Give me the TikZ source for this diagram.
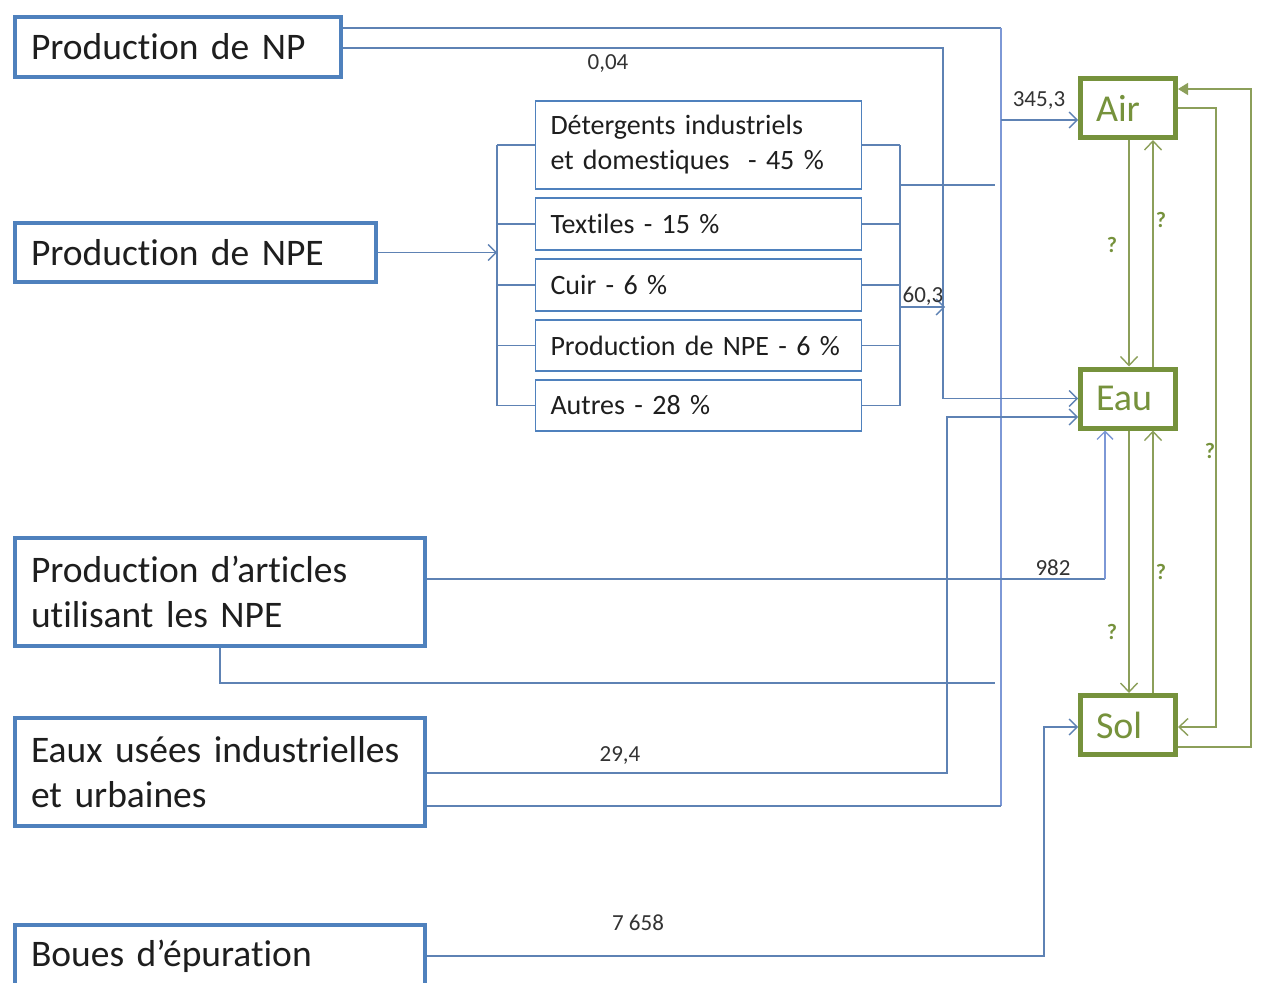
\documentclass[tikz,border=0pt]{standalone}
\usepackage{fontspec}
\setmainfont{Carlito}[Ligatures={NoCommon}]
\usetikzlibrary{arrows.meta}
\definecolor{boxblue}{HTML}{4F81BD}
\definecolor{lnblue}{HTML}{5E82B4}
\definecolor{lnlav}{HTML}{7D98D6}
\definecolor{grn}{HTML}{76923C}
\definecolor{lngrn}{HTML}{8C9F5A}
\definecolor{txt}{HTML}{1E1E1E}
\definecolor{lbl}{HTML}{333333}
\begin{document}
\begin{tikzpicture}[x=1pt,y=-1pt,
  bigbox/.style={draw=boxblue, line width=4pt, fill=white, inner xsep=16pt, inner ysep=0pt, align=left, text=txt, font=\fontsize{37.5}{45}\selectfont},
  midbox/.style={draw=boxblue, line width=1.3pt, fill=white, inner xsep=15pt, inner ysep=0pt, align=left, text=txt, text width=296pt, font=\fontsize{28}{35}\selectfont},
  envbox/.style={draw=grn, line width=5pt, fill=white, inner xsep=15.5pt, inner ysep=0pt, align=left, text=grn, text width=64pt, minimum height=59pt, font=\fontsize{38}{45}\selectfont},
  ln/.style={draw=lnblue, line width=1.3pt},
  lnl/.style={draw=lnlav, line width=1.3pt},
  arr/.style={ln, -{Straight Barb[length=8pt,width=16pt,line width=1.3pt]}},
  arrl/.style={lnl, -{Straight Barb[length=8pt,width=16pt,line width=1.3pt]}},
  gln/.style={draw=lngrn, line width=1.4pt},
  garr/.style={gln, -{Straight Barb[length=9pt,width=17pt,line width=1.4pt]}},
  lab/.style={text=lbl, inner sep=0pt, font=\fontsize{23}{23}\selectfont},
  qm/.style={text=grn, inner sep=0pt, font=\fontsize{22}{22}\selectfont\bfseries}
]
\fill[white] (0,0) rectangle (1267,983);
\useasboundingbox (0,0) rectangle (1267,983);

% source boxes
\node[bigbox, text width=294pt, minimum height=60pt] (np) at (178,47) {Production de NP};
\node[bigbox, text width=329pt, minimum height=59pt] (npe) at (195.5,252.5) {Production de NPE};
\node[bigbox, text width=378pt, minimum height=108pt] (art) at (220,592) {Production d’articles\\utilisant les NPE};
\node[bigbox, text width=378pt, minimum height=108pt] (eaux) at (220,772) {Eaux usées industrielles\\et urbaines};
\node[bigbox, text width=378pt, minimum height=62pt] (boues) at (220,956) {Boues d’épuration};

% uses
\node[midbox, minimum height=88pt] (det) at (698.5,145) {Détergents industriels\\et domestiques\ \ - 45~\%};
\node[midbox, minimum height=52pt] (tex) at (698.5,224) {Textiles - 15~\%};
\node[midbox, minimum height=52pt] (cuir) at (698.5,285) {Cuir - 6~\%};
\node[midbox, minimum height=51pt] (pnpe) at (698.5,345.5) {Production de NPE - 6~\%};
\node[midbox, minimum height=51pt] (aut) at (698.5,405.5) {Autres - 28~\%};

% compartments
\node[envbox] (air) at (1128,108) {Air};
\node[envbox] (eau) at (1128,398.5) {Eau};
\node[envbox] (sol) at (1128,725) {Sol};

% helper coordinates
\coordinate (lb) at (497,0);
\coordinate (rb) at (900,0);
\coordinate (va) at (1001,28);
\coordinate (vab) at (1001,806);
\coordinate (vaA) at (1001,120);
\coordinate (vb) at (943,48);
\coordinate (vc) at (947,773);
\coordinate (vcE) at (947,417);
\coordinate (d1) at (900,185);
\coordinate (d2) at (995,185);
\coordinate (s1) at (900,307);
\coordinate (s2) at (945,307);
\coordinate (ar1) at (1105,579);
\coordinate (ar2) at (220,683);
\coordinate (ar3) at (995,683);
\coordinate (bo1) at (1044,956);
\coordinate (bo2) at (1044,727);
\coordinate (g1) at (1129,0);
\coordinate (g2) at (1153,0);
\coordinate (g3) at (1216,108);
\coordinate (g3b) at (1216,727);
\coordinate (g4) at (1251,747);
\coordinate (g4b) at (1251,89);

% Production de NPE -> uses
\draw[arr] (npe.east) -- (npe.east -| lb);
\draw[ln] (det.west -| lb) -- (aut.west -| lb);
\draw[ln] (det.west -| lb) -- (det.west);
\draw[ln, line width=2.2pt] (tex.west -| lb) -- (tex.west);
\draw[ln] (cuir.west -| lb) -- (cuir.west);
\draw[ln] (pnpe.west -| lb) -- (pnpe.west);
\draw[ln] (aut.west -| lb) -- (aut.west);
\draw[ln] (det.east -| rb) -- (aut.east -| rb);
\draw[ln] (det.east) -- (det.east -| rb);
\draw[ln, line width=2.2pt] (tex.east) -- (tex.east -| rb);
\draw[ln] (cuir.east) -- (cuir.east -| rb);
\draw[ln] (pnpe.east) -- (pnpe.east -| rb);
\draw[ln] (aut.east) -- (aut.east -| rb);
\draw[ln] (d1) -- (d2);
\draw[arr] (s1) -- (s2);

% Production de NP
\draw[ln] (va -| np.east) -- (va);
\draw[lnl] (va) -- (vab);
\draw[arr] (vaA) -- (vaA -| air.west);
\draw[arr] (vb -| np.east) -- (vb) -- (vb |- eau.west) -- (eau.west);

% Production d'articles
\draw[ln] (ar1 -| art.east) -- (ar1);
\draw[arrl] (ar1) -- (ar1 |- eau.south);
\draw[ln] (art.south) -- (ar2) -- (ar3);

% Eaux usees
\draw[arr] (vc -| eaux.east) -- (vc) -- (vcE) -- (vcE -| eau.west);
\draw[ln] (vab -| eaux.east) -- (vab);

% Boues
\draw[arr] (bo1 -| boues.east) -- (bo1) -- (bo2) -- (bo2 -| sol.west);

% exchanges between compartments
\draw[garr] (air.south -| g1) -- (eau.north -| g1);
\draw[garr] (eau.north -| g2) -- (air.south -| g2);
\draw[garr] (eau.south -| g1) -- (sol.north -| g1);
\draw[garr] (sol.north -| g2) -- (eau.south -| g2);
\draw[garr] (g3 -| air.east) -- (g3) -- (g3b) -- (g3b -| sol.east);
\draw[gln, -{Triangle[length=10pt,width=12pt]}] (g4 -| sol.east) -- (g4) -- (g4b) -- (g4b -| air.east);

% labels
\node[lab] (l1) at (608,64) {0,04};
\node[lab] (l2) at (1039,101) {345,3};
\node[lab] (l3) at (923,296) {60,3};
\node[lab] (l4) at (1053,568) {982};
\node[lab] (l5) at (620,755) {29,4};
\node[lab] (l6) at (638,923) {7 658};
\node[qm] (q1) at (1112,245) {?};
\node[qm] (q2) at (1161,220) {?};
\node[qm] (q3) at (1112,632) {?};
\node[qm] (q4) at (1161,572) {?};
\node[qm] (q5) at (1210,451) {?};
\end{tikzpicture}
\end{document}
